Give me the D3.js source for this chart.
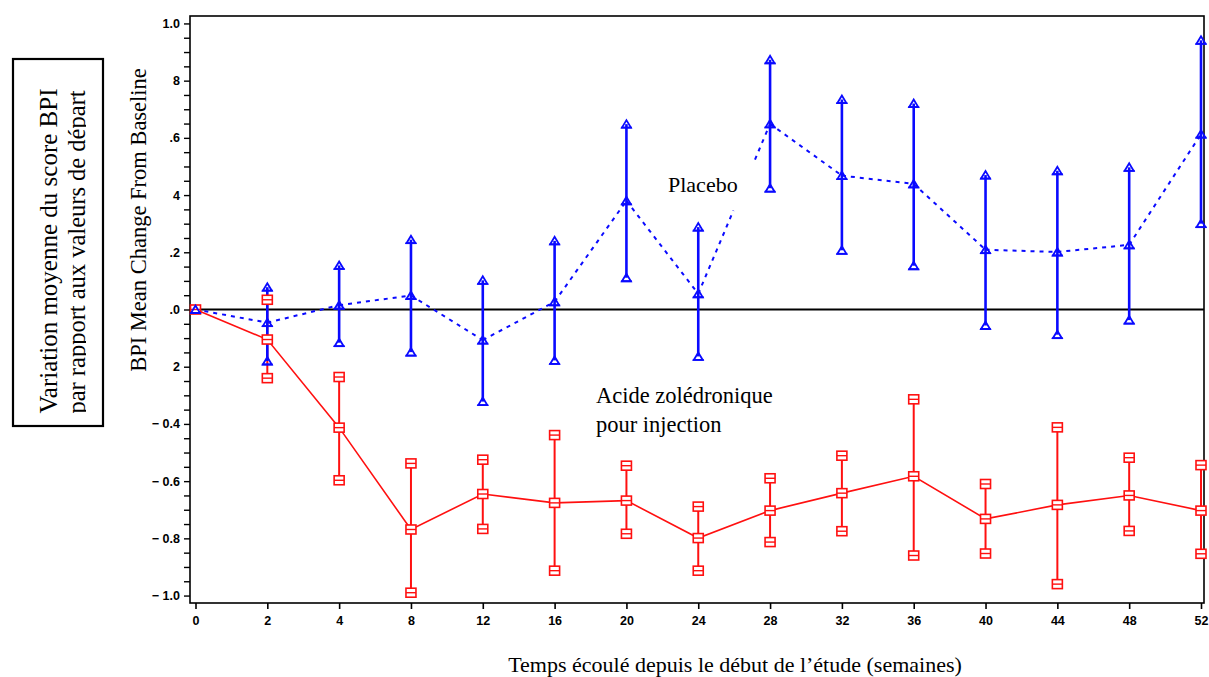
<!DOCTYPE html>
<html>
<head>
<meta charset="utf-8">
<script src="https://cdn.jsdelivr.net/npm/d3@7"></script>
<style>
  body { margin: 0; background: #fff; }
  svg { display: block; }
</style>
</head>
<body>
<div id="my_dataviz"></div>
<script>
// data
const weeks = ["0","2","4","8","12","16","20","24","28","32","36","40","44","48","52"];

const placeboMean  = [0, -0.046, 0.015, 0.049, -0.107, 0.027, 0.38, 0.055, 0.649, 0.468, 0.439, 0.209, 0.201, 0.226, 0.613];
const placeboUpper = [null, 0.078, 0.154, 0.244, 0.102, 0.24, 0.648, 0.288, 0.873, 0.734, 0.72, 0.47, 0.485, 0.497, 0.941];
const placeboLower = [null, -0.18, -0.116, -0.149, -0.322, -0.178, 0.111, -0.164, 0.424, 0.207, 0.153, -0.056, -0.088, -0.037, 0.30];

const zolMean  = [0, -0.105, -0.413, -0.769, -0.645, -0.676, -0.668, -0.799, -0.703, -0.642, -0.583, -0.732, -0.683, -0.65, -0.703];
const zolUpper = [null, 0.034, -0.236, -0.538, -0.525, -0.439, -0.546, -0.689, -0.59, -0.511, -0.314, -0.61, -0.412, -0.518, -0.544];
const zolLower = [null, -0.24, -0.597, -0.99, -0.767, -0.913, -0.784, -0.913, -0.813, -0.775, -0.86, -0.853, -0.96, -0.774, -0.854];

const yTickValues = [1.0, 0.8, 0.6, 0.4, 0.2, 0.0, -0.2, -0.4, -0.6, -0.8, -1.0];
const yTickLabels = ["1.0", "8", ".6", "4", ".2", ".0", "2", "\u2212 0.4", "\u2212 0.6", "\u2212 0.8", "\u2212 1.0"];

const width = 1209, height = 677;
const frame = {left: 190, right: 1204, top: 16, bottom: 603};

const svg = d3.select("#my_dataviz")
  .append("svg")
    .attr("width", width)
    .attr("height", height);

// scales
const x = d3.scalePoint()
  .domain(weeks)
  .range([195.5, 1201]);

const y = d3.scaleLinear()
  .domain([-1.026, 1.026])
  .range([frame.bottom, frame.top]);

// frame box
svg.append("rect")
  .attr("x", frame.left)
  .attr("y", frame.top)
  .attr("width", frame.right - frame.left)
  .attr("height", frame.bottom - frame.top)
  .attr("fill", "none")
  .attr("stroke", "#000")
  .attr("stroke-width", 1.6);

// Y axis, minor ticks every 0.05
const minor = d3.range(-20, 21).map(d => d * 0.05);
const yAxis = svg.append("g")
  .attr("transform", `translate(${frame.left},0)`)
  .call(d3.axisLeft(y)
    .tickValues(minor)
    .tickSize(6)
    .tickPadding(4)
    .tickFormat(d => {
      const i = yTickValues.findIndex(v => Math.abs(v - d) < 1e-6);
      return i >= 0 ? yTickLabels[i] : "";
    }));
yAxis.select(".domain").remove();
yAxis.selectAll("line").attr("stroke", "#000").attr("stroke-width", 1.4);
yAxis.selectAll("text")
  .style("font-family", "'Liberation Sans', Arial, sans-serif")
  .style("font-weight", "bold")
  .style("font-size", "12.5px")
  .attr("fill", "#000");

// X axis
const xAxis = svg.append("g")
  .attr("transform", `translate(0,${frame.bottom})`)
  .call(d3.axisBottom(x).tickSize(6).tickPadding(7));
xAxis.select(".domain").remove();
xAxis.selectAll("line").attr("stroke", "#000").attr("stroke-width", 1.6);
xAxis.selectAll("text")
  .style("font-family", "'Liberation Sans', Arial, sans-serif")
  .style("font-weight", "bold")
  .style("font-size", "12.5px")
  .attr("fill", "#000");

// zero line
svg.append("line")
  .attr("x1", frame.left).attr("x2", frame.right)
  .attr("y1", y(0)).attr("y2", y(0))
  .attr("stroke", "#000")
  .attr("stroke-width", 1.8);

// build rows
const placebo = weeks.map((w, i) => ({w, m: placeboMean[i], hi: placeboUpper[i], lo: placeboLower[i]}));
const zol = weeks.map((w, i) => ({w, m: zolMean[i], hi: zolUpper[i], lo: zolLower[i]}));

const blue = "#0a0aff", red = "#ff1010";

// red mean line
svg.append("path")
  .datum(zol)
  .attr("fill", "none")
  .attr("stroke", red)
  .attr("stroke-width", 1.6)
  .attr("d", d3.line().x(d => x(d.w)).y(d => y(d.m)));

// blue dotted mean line, with the small break near the label (24 -> 28)
const gapFrom = 0.49, gapTo = 0.79;
const blueSegs = [];
for (let i = 0; i < placebo.length - 1; i++) {
  const a = placebo[i], b = placebo[i + 1];
  const p0 = [x(a.w), y(a.m)], p1 = [x(b.w), y(b.m)];
  const at = t => [p0[0] + (p1[0] - p0[0]) * t, p0[1] + (p1[1] - p0[1]) * t];
  if (a.w === "24") {
    blueSegs.push([p0, at(gapFrom)]);
    blueSegs.push([at(gapTo), p1]);
  } else {
    blueSegs.push([p0, p1]);
  }
}
svg.selectAll(".blueSeg")
  .data(blueSegs)
  .join("path")
    .attr("class", "blueSeg")
    .attr("fill", "none")
    .attr("stroke", blue)
    .attr("stroke-width", 2)
    .attr("stroke-dasharray", "4,5")
    .attr("d", d => d3.line()(d));

// error bars
svg.selectAll(".zolBar")
  .data(zol.filter(d => d.hi !== null))
  .join("line")
    .attr("class", "zolBar")
    .attr("x1", d => x(d.w)).attr("x2", d => x(d.w))
    .attr("y1", d => y(d.hi)).attr("y2", d => y(d.lo))
    .attr("stroke", red)
    .attr("stroke-width", 2);

svg.selectAll(".plaBar")
  .data(placebo.filter(d => d.hi !== null))
  .join("line")
    .attr("class", "plaBar")
    .attr("x1", d => x(d.w)).attr("x2", d => x(d.w))
    .attr("y1", d => y(d.hi)).attr("y2", d => y(d.lo))
    .attr("stroke", blue)
    .attr("stroke-width", 2.6);

// markers
const zolPts = [];
zol.forEach(d => {
  zolPts.push({w: d.w, v: d.m});
  if (d.hi !== null) { zolPts.push({w: d.w, v: d.hi}); zolPts.push({w: d.w, v: d.lo}); }
});
const sq = svg.selectAll(".sq")
  .data(zolPts)
  .join("g")
    .attr("class", "sq")
    .attr("transform", d => `translate(${x(d.w)},${y(d.v)})`);
sq.append("rect")
  .attr("x", -5).attr("y", -4.5).attr("width", 10).attr("height", 9)
  .attr("fill", "#fff")
  .attr("stroke", red)
  .attr("stroke-width", 1.6);
sq.append("line")
  .attr("x1", -5).attr("x2", 5).attr("y1", 0).attr("y2", 0)
  .attr("stroke", red)
  .attr("stroke-width", 1.4);

const plaPts = [];
placebo.forEach(d => {
  plaPts.push({w: d.w, v: d.m});
  if (d.hi !== null) { plaPts.push({w: d.w, v: d.hi}); plaPts.push({w: d.w, v: d.lo}); }
});
const tri = svg.selectAll(".tri")
  .data(plaPts)
  .join("g")
    .attr("class", "tri")
    .attr("transform", d => `translate(${x(d.w)},${y(d.v)})`);
tri.append("path")
  .attr("d", "M-4.5,3.5 L0,-4 L4.5,3.5 Z")
  .attr("fill", "none")
  .attr("stroke", blue)
  .attr("stroke-width", 1.8);
tri.append("line")
  .attr("x1", -5.5).attr("x2", 5.5).attr("y1", 3.5).attr("y2", 3.5)
  .attr("stroke", blue)
  .attr("stroke-width", 1.8);

// series labels
const serif = "'Liberation Serif', 'Times New Roman', serif";
svg.append("text")
  .attr("x", 668).attr("y", 192)
  .style("font-family", serif).style("font-size", "22px")
  .text("Placebo");

svg.append("text")
  .attr("x", 596).attr("y", 403)
  .style("font-family", serif).style("font-size", "22.5px")
  .text("Acide zolédronique");
svg.append("text")
  .attr("x", 596).attr("y", 432)
  .style("font-family", serif).style("font-size", "22.5px")
  .text("pour injection");

// axis titles
svg.append("text")
  .attr("transform", "translate(146,220) rotate(-90)")
  .attr("text-anchor", "middle")
  .style("font-family", serif).style("font-size", "22.5px")
  .text("BPI Mean Change From Baseline");

svg.append("text")
  .attr("x", 735).attr("y", 672)
  .attr("text-anchor", "middle")
  .style("font-family", serif).style("font-size", "22px")
  .text("Temps écoulé depuis le début de l\u2019étude (semaines)");

// left boxed caption
svg.append("rect")
  .attr("x", 13).attr("y", 59)
  .attr("width", 90).attr("height", 367)
  .attr("fill", "#fff")
  .attr("stroke", "#000")
  .attr("stroke-width", 2.2);

svg.append("text")
  .attr("transform", "translate(57,251) rotate(-90)")
  .attr("text-anchor", "middle")
  .style("font-family", serif).style("font-size", "25px")
  .text("Variation moyenne du score BPI");

// the descenders of the second line are cut off in the original
svg.append("clipPath")
  .attr("id", "capClip")
  .append("rect")
    .attr("x", 60).attr("y", 59).attr("width", 26).attr("height", 367);
svg.append("g")
  .attr("clip-path", "url(#capClip)")
  .append("text")
    .attr("transform", "translate(85,252) rotate(-90)")
    .attr("text-anchor", "middle")
    .style("font-family", serif).style("font-size", "24.5px")
    .text("par rapport aux valeurs de départ");
</script>
</body>
</html>
